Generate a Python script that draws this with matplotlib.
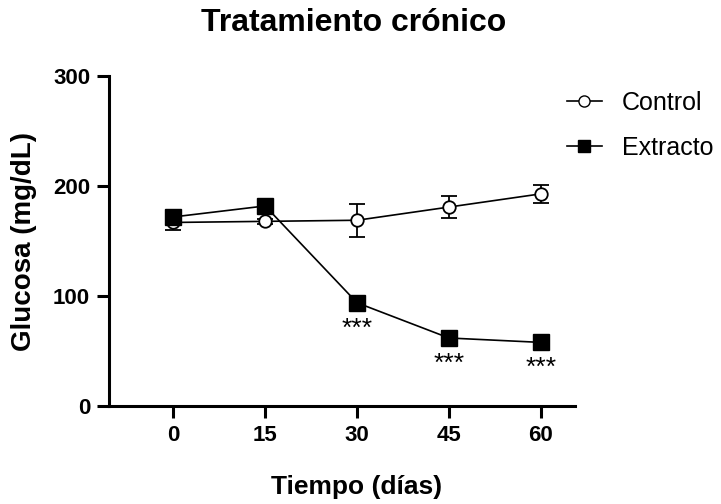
import numpy as np
import matplotlib.pyplot as plt
from matplotlib.lines import Line2D

plt.rcParams['font.family'] = ['Liberation Sans', 'DejaVu Sans']

# Datos
dias = [0, 15, 30, 45, 60]
control = [167, 168, 169, 181, 193]
control_err = [7, 2, 15, 10, 8]
extracto = [172, 182, 94, 62, 58]
extracto_err = [3, 3, 3, 3, 3]
signif = ['', '', '***', '***', '***']

fig = plt.figure(figsize=(7.21, 5.04), dpi=100)
ax = fig.add_axes([0.151, 0.194, 0.646, 0.655])

ax.errorbar(dias, control, yerr=control_err, color='black', marker='o',
            markersize=9, markerfacecolor='white', markeredgewidth=1.3,
            linewidth=1.2, capsize=6, elinewidth=1.3, capthick=1.3, zorder=3)
ax.errorbar(dias, extracto, yerr=extracto_err, color='black', marker='s',
            markersize=11, markerfacecolor='black', linewidth=1.2,
            capsize=6, elinewidth=1.3, capthick=1.3, zorder=4)

# Asteriscos de significancia
for x, y, s in zip(dias, extracto, signif):
    if s:
        ax.annotate(s, (x, y), xytext=(0, -10), textcoords='offset points',
                    ha='center', va='top', fontsize=19)

ax.set_xlim(-10.5, 65.5)
ax.set_ylim(0, 300)
ax.set_xticks(dias)
ax.set_yticks([0, 100, 200, 300])

for side in ['top', 'right']:
    ax.spines[side].set_visible(False)
for side in ['left', 'bottom']:
    ax.spines[side].set_linewidth(2.2)
ax.tick_params(width=2.2, length=8.5, labelsize=16, pad=5)
for lbl in ax.get_xticklabels() + ax.get_yticklabels():
    lbl.set_fontweight('bold')

fig.text(0.491, 0.955, 'Tratamiento crónico', fontsize=23, fontweight='bold',
         ha='center', va='center')
ax.set_xlabel('Tiempo (días)', fontsize=19, fontweight='bold')
ax.xaxis.set_label_coords(0.532, -0.245)
ax.xaxis.label.set_va('center')
ax.set_ylabel('Glucosa (mg/dL)', fontsize=20, fontweight='bold')
ax.yaxis.set_label_coords(-0.183, 0.5)
ax.yaxis.label.set_va('center')

# Leyenda sin barras de error
handles = [Line2D([], [], color='black', marker='o', markersize=8,
                  markerfacecolor='white', linewidth=1.2),
           Line2D([], [], color='black', marker='s', markersize=8,
                  markerfacecolor='black', linewidth=1.2)]
ax.legend(handles, ['Control', 'Extracto'], loc='upper left',
          bbox_to_anchor=(0.983, 0.956), frameon=False, fontsize=18,
          borderaxespad=0, borderpad=0,
          handlelength=1.4, handletextpad=0.8, labelspacing=0.85)

fig.savefig('out.png', dpi=100)
